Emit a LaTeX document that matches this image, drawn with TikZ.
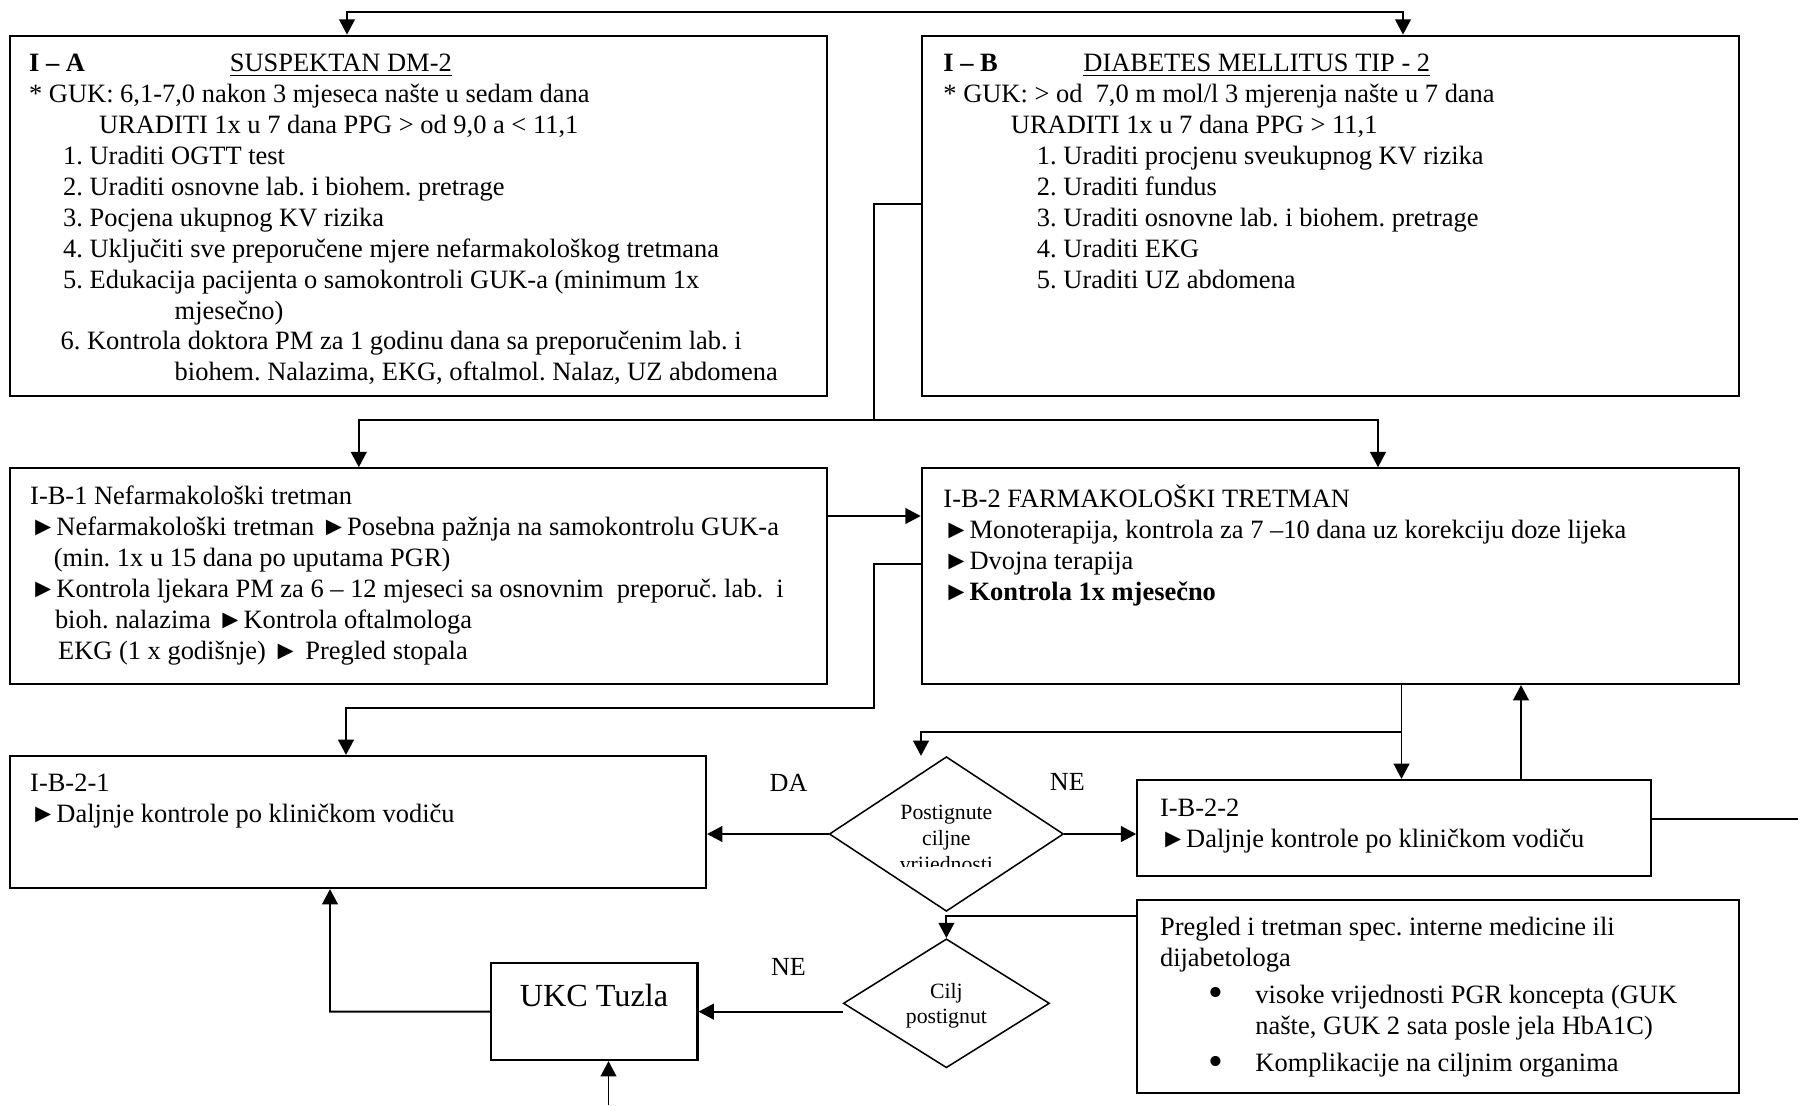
\documentclass[tikz,border=0pt]{standalone}
\usepackage{fontspec}
\setmainfont{Liberation Serif}
\usetikzlibrary{arrows.meta,shapes.geometric,fit}
\frenchspacing

\begin{document}
\begin{tikzpicture}[x=0.01614cm,y=-0.01614cm,>={Triangle[length=7pt,width=7.2pt]},
  box/.style={draw,line width=1pt,inner sep=0pt},
  txt/.style={anchor=north west,inner sep=0pt,align=left,font=\fontsize{12.15}{14.2}\selectfont},
  dec/.style={draw,diamond,line width=0.7pt,inner sep=0pt},
  dectxt/.style={inner sep=0pt,align=center,font=\fontsize{10}{11.1}\selectfont},
  lbl/.style={inner sep=0pt,font=\fontsize{12}{14}\selectfont},
  conn/.style={line width=0.9pt}]

\useasboundingbox (0,0) rectangle (1798,1105);

% boxes
\node[box,fit={(10,35.7) (826.6,395.7)}] (ia) {};
\node[box,fit={(921.8,35.7) (1739,395.7)}] (ib) {};
\node[box,fit={(10,468.3) (826.6,684)}] (ib1) {};
\node[box,fit={(921.8,468.3) (1739,684)}] (ib2) {};
\node[box,fit={(10,756) (706,888)}] (ib21) {};
\node[box,fit={(1137.3,780) (1651,875.7)}] (ib22) {};
\node[box,fit={(1137.3,900) (1738.8,1093.3)}] (preg) {};
\node[box,fit={(491.4,963.3) (697.5,1060)}] (ukc) {};
\node[dec,minimum width=3.782cm,minimum height=2.497cm] (d1) at (946.4,834) {};
\node[dec,minimum width=3.328cm,minimum height=2.082cm] (d2) at (946.4,1003.3) {};

% texts
\node[txt] (iatext) at (28.7,51.7) {\rule{0pt}{9pt}\makebox[3.24cm][l]{\textbf{I – A}}\underline{SUSPEKTAN DM-2}\\
  * GUK: 6,1-7,0 nakon 3 mjeseca našte u sedam dana\\
  \hspace*{1.13cm}URADITI 1x u 7 dana PPG > od 9,0 a < 11,1\\
  \hspace*{0.55cm}1. Uraditi OGTT test\\
  \hspace*{0.55cm}2. Uraditi osnovne lab. i biohem. pretrage\\
  \hspace*{0.55cm}3. Pocjena ukupnog KV rizika\\
  \hspace*{0.55cm}4. Uključiti sve preporučene mjere nefarmakološkog tretmana\\
  \hspace*{0.55cm}5. Edukacija pacijenta o samokontroli GUK-a (minimum 1x\\
  \hspace*{2.35cm}mjesečno)\\
  \hspace*{0.51cm}6. Kontrola doktora PM za 1 godinu dana sa preporučenim lab. i\\
  \hspace*{2.35cm}biohem. Nalazima, EKG, oftalmol. Nalaz, UZ abdomena};
\node[txt] (ibtext) at (943,51.7) {\rule{0pt}{9pt}\makebox[2.26cm][l]{\textbf{I – B}}\underline{DIABETES MELLITUS TIP - 2}\\
  * GUK: > od~ 7,0 m mol/l 3 mjerenja našte u 7 dana\\
  \hspace*{1.09cm}URADITI 1x u 7 dana PPG > 11,1\\
  \hspace*{1.51cm}1. Uraditi procjenu sveukupnog KV rizika\\
  \hspace*{1.51cm}2. Uraditi fundus\\
  \hspace*{1.51cm}3. Uraditi osnovne lab. i biohem. pretrage\\
  \hspace*{1.51cm}4. Uraditi EKG\\
  \hspace*{1.51cm}5. Uraditi UZ abdomena};
\node[txt] (ib1text) at (29.8,484.4) {\rule{0pt}{9pt}I-B-1 Nefarmakološki tretman\\
  ►Nefarmakološki tretman ►Posebna pažnja na samokontrolu GUK-a\\
  \hspace*{0.38cm}(min. 1x u 15 dana po uputama PGR)\\
  ►Kontrola ljekara PM za 6 – 12 mjeseci sa osnovnim~ preporuč. lab.~ i\\
  \hspace*{0.40cm}bioh. nalazima ►Kontrola oftalmologa\\
  \hspace*{0.45cm}EKG (1 x godišnje) ► Pregled stopala};
\node[txt] (ib2text) at (943,484.4) {\rule{0pt}{9pt}I-B-2 FARMAKOLOŠKI TRETMAN\\
  ►Monoterapija, kontrola za 7 –10 dana uz korekciju doze lijeka\\
  ►Dvojna terapija\\
  \textbf{►Kontrola 1x mjesečno}};
\node[txt] (ib21text) at (29.8,771.7) {\rule{0pt}{9pt}I-B-2-1\\
  ►Daljnje kontrole po kliničkom vodiču};
\node[txt] (ib22text) at (1159.6,796.7) {\rule{0pt}{9pt}I-B-2-2\\
  ►Daljnje kontrole po kliničkom vodiču};
\node[txt] (pregtext) at (1159.6,915.1) {\rule{0pt}{9pt}Pregled i tretman spec. interne medicine ili\\
  dijabetologa\\[3pt]
  \hspace*{0.78cm}\makebox[0.76cm][l]{\raisebox{-1.6pt}{\scalebox{1.6}{\textbullet}}}visoke vrijednosti PGR koncepta (GUK\\
  \hspace*{1.54cm}našte, GUK 2 sata posle jela HbA1C)\\[3pt]
  \hspace*{0.78cm}\makebox[0.76cm][l]{\raisebox{-1.6pt}{\scalebox{1.6}{\textbullet}}}Komplikacije na ciljnim organima};
\node[font=\fontsize{14.8}{17}\selectfont,inner sep=0pt] (ukctext) at (594,995) {UKC Tuzla};
\begin{scope}
  \clip (828,770) rectangle (1063,866.7);
  \node[dectxt,anchor=north,font=\fontsize{10}{11.8}\selectfont] (d1text) at (946.4,804.1) {\rule{0pt}{7pt}Postignute\\ciljne\\vrijednosti};
\end{scope}
\node[dectxt,font=\fontsize{10}{11.5}\selectfont] (d2text) at (946.4,1005.5) {Cilj\\postignut};
\node[lbl] (da) at (788.5,783.3) {DA};
\node[lbl] (ne1) at (1067.3,781.7) {NE};
\node[lbl] (ne2) at (788.5,966.7) {NE};

% connectors
\coordinate (ta) at (347,12.3);
\coordinate (tb) at (1403,12.3);
\draw[conn,<->] (ia.north -| ta) -- (ta) -- (tb) -- (ib.north -| tb);

\coordinate (k1) at (873.7,204);
\coordinate (k2) at (873.7,420);
\coordinate (k3) at (358.8,420);
\coordinate (k4) at (1378,420);
\draw[conn] (ib.west |- k1) -- (k1) -- (k2);
\draw[conn,<->] (ib1.north -| k3) -- (k3) -- (k4) -- (ib2.north -| k4);

\coordinate (m1) at (850,516);
\draw[conn,->] (ib1.east |- m1) -- (ib2.west |- m1);

\coordinate (n1) at (873.7,564);
\coordinate (n2) at (873.7,708.3);
\coordinate (n3) at (346,708.3);
\draw[conn,->] (ib2.west |- n1) -- (n1) -- (n2) -- (n3) -- (ib21.north -| n3);

\coordinate (p1) at (1401.5,732.3);
\coordinate (p2) at (921,732.3);
\draw[conn,->] (ib2.south -| p1) -- (ib22.north -| p1);
\draw[conn,->] (p1) -- (p2) -- (d1.north -| p2);

\coordinate (q1) at (1521,730);
\draw[conn,->] (ib22.north -| q1) -- (ib2.south -| q1);

\draw[conn,->] (d1.west) -- (ib21.east |- d1.west);
\draw[conn,->] (d1.east) -- (ib22.west |- d1.east);

\coordinate (r1) at (1798,819.3);
\draw[conn] (ib22.east |- r1) -- (r1);

\coordinate (s1) at (946.4,916);
\draw[conn,->] (preg.west |- s1) -- (s1) -- (d2.north);

\draw[conn,->] (d2.west |- ukc.east) -- (ukc.east);

\coordinate (u1) at (330,1011.7);
\draw[conn,->] (ukc.west) -- (u1) -- (ib21.south -| u1);

\coordinate (v1) at (608.5,1105);
\draw[conn,->] (v1) -- (ukc.south -| v1);
\end{tikzpicture}
\end{document}
